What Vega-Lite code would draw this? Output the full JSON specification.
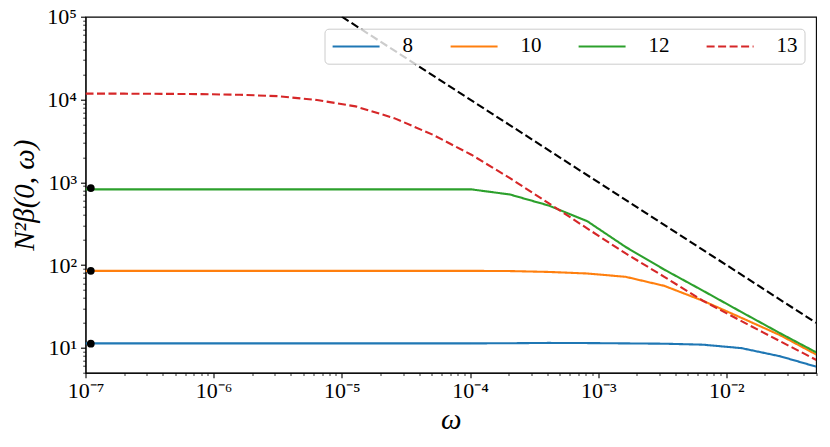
{
  "$schema": "https://vega.github.io/schema/vega-lite/v6.json",
  "width": 730.5,
  "height": 356,
  "autosize": "none",
  "padding": {"left": 85.5, "top": 16.7, "right": 14, "bottom": 74.3},
  "background": "white",
  "config": {
    "view": {"stroke": "black", "strokeWidth": 1.1},
    "axis": {
      "grid": false,
      "domainColor": "black",
      "domainWidth": 1.1,
      "tickColor": "black",
      "labelColor": "black",
      "labelFont": "Liberation Serif",
      "labelFontSize": 22,
      "labelOverlap": false,
      "labelFlush": false,
      "titleFont": "Liberation Serif",
      "titleFontWeight": "normal",
      "titleFontStyle": "italic",
      "titleColor": "black"
    },
    "legend": {
      "orient": "top-right",
      "offset": 12,
      "direction": "horizontal",
      "columns": 4,
      "symbolType": "M-1,0L4,0",
      "symbolSize": 353,
      "symbolStrokeWidth": 2.1,
      "labelFont": "Liberation Serif",
      "labelFontSize": 21,
      "labelColor": "black",
      "labelOffset": 50,
      "columnPadding": 32,
      "padding": 7,
      "fillColor": "rgba(255,255,255,0.8)",
      "strokeColor": "#cccccc",
      "cornerRadius": 4
    }
  },
  "datasets": {
    "curves": [
      {"w": 1e-7, "v": 11.3, "n": "8"}, {"w": 2e-7, "v": 11.3, "n": "8"}, {"w": 4e-7, "v": 11.3, "n": "8"},
      {"w": 8e-7, "v": 11.3, "n": "8"}, {"w": 1.6e-6, "v": 11.3, "n": "8"}, {"w": 3.2e-6, "v": 11.3, "n": "8"},
      {"w": 6.4e-6, "v": 11.3, "n": "8"}, {"w": 1.28e-5, "v": 11.3, "n": "8"}, {"w": 2.56e-5, "v": 11.3, "n": "8"},
      {"w": 5.12e-5, "v": 11.3, "n": "8"}, {"w": 1.024e-4, "v": 11.3, "n": "8"}, {"w": 2.048e-4, "v": 11.35, "n": "8"},
      {"w": 4.096e-4, "v": 11.45, "n": "8"}, {"w": 8.192e-4, "v": 11.4, "n": "8"}, {"w": 1.6384e-3, "v": 11.3, "n": "8"},
      {"w": 3.2768e-3, "v": 11.2, "n": "8"}, {"w": 6.5536e-3, "v": 10.9, "n": "8"}, {"w": 1.31072e-2, "v": 9.9, "n": "8"},
      {"w": 2.62144e-2, "v": 7.9, "n": "8"}, {"w": 5.24288e-2, "v": 5.8, "n": "8"},

      {"w": 1e-7, "v": 85, "n": "10"}, {"w": 2e-7, "v": 85, "n": "10"}, {"w": 4e-7, "v": 85, "n": "10"},
      {"w": 8e-7, "v": 85, "n": "10"}, {"w": 1.6e-6, "v": 85, "n": "10"}, {"w": 3.2e-6, "v": 85, "n": "10"},
      {"w": 6.4e-6, "v": 85, "n": "10"}, {"w": 1.28e-5, "v": 85, "n": "10"}, {"w": 2.56e-5, "v": 85, "n": "10"},
      {"w": 5.12e-5, "v": 85, "n": "10"}, {"w": 1.024e-4, "v": 85, "n": "10"}, {"w": 2.048e-4, "v": 84.5, "n": "10"},
      {"w": 4.096e-4, "v": 82.5, "n": "10"}, {"w": 8.192e-4, "v": 79, "n": "10"}, {"w": 1.6384e-3, "v": 72, "n": "10"},
      {"w": 3.2768e-3, "v": 56, "n": "10"}, {"w": 6.5536e-3, "v": 37, "n": "10"}, {"w": 1.31072e-2, "v": 23, "n": "10"},
      {"w": 2.62144e-2, "v": 14.2, "n": "10"}, {"w": 5.24288e-2, "v": 8.0, "n": "10"},

      {"w": 1e-7, "v": 820, "n": "12"}, {"w": 2e-7, "v": 820, "n": "12"}, {"w": 4e-7, "v": 820, "n": "12"},
      {"w": 8e-7, "v": 820, "n": "12"}, {"w": 1.6e-6, "v": 820, "n": "12"}, {"w": 3.2e-6, "v": 820, "n": "12"},
      {"w": 6.4e-6, "v": 820, "n": "12"}, {"w": 1.28e-5, "v": 820, "n": "12"}, {"w": 2.56e-5, "v": 820, "n": "12"},
      {"w": 5.12e-5, "v": 820, "n": "12"}, {"w": 1.024e-4, "v": 820, "n": "12"}, {"w": 2.048e-4, "v": 711, "n": "12"},
      {"w": 4.096e-4, "v": 524, "n": "12"}, {"w": 8.192e-4, "v": 339, "n": "12"}, {"w": 1.6384e-3, "v": 165, "n": "12"},
      {"w": 3.2768e-3, "v": 88, "n": "12"}, {"w": 6.5536e-3, "v": 49, "n": "12"}, {"w": 1.31072e-2, "v": 27, "n": "12"},
      {"w": 2.62144e-2, "v": 15, "n": "12"}, {"w": 5.24288e-2, "v": 8.5, "n": "12"},

      {"w": 1e-7, "v": 11750, "n": "13"}, {"w": 2e-7, "v": 11750, "n": "13"}, {"w": 4e-7, "v": 11700, "n": "13"},
      {"w": 8e-7, "v": 11600, "n": "13"}, {"w": 1.6e-6, "v": 11400, "n": "13"}, {"w": 3.2e-6, "v": 10950, "n": "13"},
      {"w": 6.4e-6, "v": 9850, "n": "13"}, {"w": 1.28e-5, "v": 8250, "n": "13"}, {"w": 2.56e-5, "v": 5950, "n": "13"},
      {"w": 5.12e-5, "v": 3750, "n": "13"}, {"w": 1.024e-4, "v": 2150, "n": "13"}, {"w": 2.048e-4, "v": 1120, "n": "13"},
      {"w": 4.096e-4, "v": 560, "n": "13"}, {"w": 8.192e-4, "v": 277, "n": "13"}, {"w": 1.6384e-3, "v": 138, "n": "13"},
      {"w": 3.2768e-3, "v": 72, "n": "13"}, {"w": 6.5536e-3, "v": 37, "n": "13"}, {"w": 1.31072e-2, "v": 21, "n": "13"},
      {"w": 2.62144e-2, "v": 12, "n": "13"}, {"w": 5.24288e-2, "v": 6.9, "n": "13"}
    ],
    "slope": [
      {"w": 1e-5, "v": 100000},
      {"w": 0.05, "v": 20}
    ],
    "dots": [
      {"w": 1.1e-7, "v": 11.2},
      {"w": 1.1e-7, "v": 85},
      {"w": 1.1e-7, "v": 850}
    ]
  },
  "layer": [
    {
      "data": {"name": "curves"},
      "mark": {"type": "line", "strokeWidth": 2.1, "clip": true},
      "encoding": {
        "x": {
          "field": "w", "type": "quantitative",
          "scale": {"type": "log", "domain": [1e-7, 0.05], "nice": false},
          "axis": {
            "title": "ω",
            "titleFontSize": 29,
            "titlePadding": 4,
            "labelPadding": 3,
            "values": [1e-7, 2e-7, 3e-7, 4e-7, 5e-7, 6e-7, 7e-7, 8e-7, 9e-7,
                       1e-6, 2e-6, 3e-6, 4e-6, 5e-6, 6e-6, 7e-6, 8e-6, 9e-6,
                       1e-5, 2e-5, 3e-5, 4e-5, 5e-5, 6e-5, 7e-5, 8e-5, 9e-5,
                       1e-4, 2e-4, 3e-4, 4e-4, 5e-4, 6e-4, 7e-4, 8e-4, 9e-4,
                       1e-3, 2e-3, 3e-3, 4e-3, 5e-3, 6e-3, 7e-3, 8e-3, 9e-3,
                       1e-2, 2e-2, 3e-2, 4e-2, 5e-2],
            "labelExpr": "abs(log(datum.value)/LN10 - round(log(datum.value)/LN10)) < 0.001 ? '10' + ['⁻⁷','⁻⁶','⁻⁵','⁻⁴','⁻³','⁻²'][round(log(datum.value)/LN10) + 7] : ''",
            "tickSize": {"condition": {"test": "abs(log(datum.value)/LN10 - round(log(datum.value)/LN10)) < 0.001", "value": 5}, "value": 2.8},
            "tickWidth": {"condition": {"test": "abs(log(datum.value)/LN10 - round(log(datum.value)/LN10)) < 0.001", "value": 1.1}, "value": 0.8}
          }
        },
        "y": {
          "field": "v", "type": "quantitative",
          "scale": {"type": "log", "domain": [5, 100000], "nice": false},
          "axis": {
            "title": "N²β(0, ω)",
            "titleFontSize": 29,
            "titlePadding": 7,
            "labelPadding": 4,
            "values": [5, 6, 7, 8, 9,
                       10, 20, 30, 40, 50, 60, 70, 80, 90,
                       100, 200, 300, 400, 500, 600, 700, 800, 900,
                       1000, 2000, 3000, 4000, 5000, 6000, 7000, 8000, 9000,
                       10000, 20000, 30000, 40000, 50000, 60000, 70000, 80000, 90000,
                       100000],
            "labelExpr": "abs(log(datum.value)/LN10 - round(log(datum.value)/LN10)) < 0.001 ? '10' + ['¹','²','³','⁴','⁵'][round(log(datum.value)/LN10) - 1] : ''",
            "tickSize": {"condition": {"test": "abs(log(datum.value)/LN10 - round(log(datum.value)/LN10)) < 0.001", "value": 5}, "value": 2.8},
            "tickWidth": {"condition": {"test": "abs(log(datum.value)/LN10 - round(log(datum.value)/LN10)) < 0.001", "value": 1.1}, "value": 0.8}
          }
        },
        "color": {
          "field": "n", "type": "nominal",
          "scale": {"domain": ["8", "10", "12", "13"], "range": ["#1f77b4", "#ff7f0e", "#2ca02c", "#d62728"]},
          "legend": {"title": null}
        },
        "strokeDash": {
          "field": "n", "type": "nominal",
          "scale": {"domain": ["8", "10", "12", "13"], "range": [[1, 0], [1, 0], [1, 0], [8, 3.5]]},
          "legend": {"title": null}
        }
      }
    },
    {
      "data": {"name": "slope"},
      "mark": {"type": "line", "color": "black", "strokeWidth": 2.1, "strokeDash": [8, 3.5], "clip": true},
      "encoding": {
        "x": {"field": "w", "type": "quantitative"},
        "y": {"field": "v", "type": "quantitative"}
      }
    },
    {
      "data": {"name": "dots"},
      "mark": {"type": "point", "filled": true, "color": "black", "opacity": 1, "size": 60},
      "encoding": {
        "x": {"field": "w", "type": "quantitative"},
        "y": {"field": "v", "type": "quantitative"}
      }
    }
  ]
}
